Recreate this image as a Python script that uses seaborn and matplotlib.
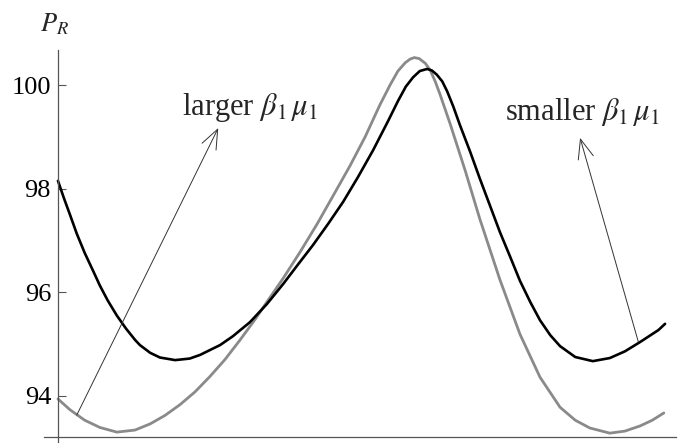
import matplotlib
matplotlib.use("Agg")
import matplotlib.pyplot as plt
import seaborn as sns
import pandas as pd

# ---- data (phase in % of the period, P_R values) ----
black_x = [0, 1.0, 2.0, 3.1, 4.4, 5.8, 6.9, 8.2, 9.7, 11.2, 12.7, 13.5, 15.2, 16.8,
           19.3, 21.7, 23.4, 26.7, 28.8, 31.6, 34.4, 37.1, 39.5, 42.0, 44.5, 47.0,
           49.4, 51.9, 54.4, 56.0, 57.3, 58.5, 59.6, 60.8, 61.6, 62.4, 63.3, 64.1,
           65.1, 66.2, 67.9, 69.5, 71.2, 72.8, 74.5, 76.1, 77.8, 79.4, 81.1, 82.7,
           85.2, 88.1, 90.9, 93.4, 95.9, 98.9, 100.0]
black_y = [98.15, 97.81, 97.49, 97.13, 96.76, 96.41, 96.13, 95.84, 95.55, 95.30,
           95.08, 94.98, 94.83, 94.74, 94.69, 94.72, 94.79, 94.98, 95.15, 95.42,
           95.77, 96.16, 96.53, 96.91, 97.32, 97.75, 98.22, 98.74, 99.31, 99.69,
           99.97, 100.15, 100.27, 100.31, 100.28, 100.20, 100.07, 99.88, 99.59,
           99.23, 98.71, 98.19, 97.66, 97.16, 96.68, 96.22, 95.81, 95.46, 95.17,
           94.96, 94.75, 94.67, 94.73, 94.86, 95.04, 95.27, 95.39]

gray_x = [0, 2.0, 4.4, 6.9, 9.7, 12.7, 15.2, 17.6, 20.1, 22.6, 25.0, 27.5, 30.0,
          32.5, 34.4, 37.1, 39.9, 42.7, 45.6, 48.1, 50.6, 53.0, 54.7, 56.0, 57.2,
          58.0, 58.7, 59.5, 60.5, 61.3, 62.1, 62.9, 64.6, 67.1, 69.5, 72.8, 76.1,
          79.4, 82.7, 85.2, 87.6, 90.9, 93.4, 95.9, 97.9, 99.8]
gray_y = [93.94, 93.73, 93.53, 93.39, 93.30, 93.34, 93.46, 93.62, 93.83, 94.08,
          94.37, 94.70, 95.08, 95.48, 95.81, 96.27, 96.78, 97.32, 97.92, 98.44,
          99.00, 99.61, 100.00, 100.27, 100.43, 100.50, 100.53, 100.51, 100.42,
          100.29, 100.08, 99.83, 99.25, 98.34, 97.41, 96.24, 95.19, 94.36, 93.78,
          93.53, 93.38, 93.28, 93.32, 93.42, 93.53, 93.67]

y_ticks = [94, 96, 98, 100]
y_label = "$P_R$"
label_larger = r"larger $\beta_1\,\mu_1$"
label_smaller = r"smaller $\beta_1\,\mu_1$"

# ---- style ----
sns.set_theme(style="white")
plt.rcParams["font.family"] = ["Liberation Serif", "DejaVu Serif"]
plt.rcParams["mathtext.fontset"] = "stix"
plt.rcParams["lines.solid_joinstyle"] = "round"
plt.rcParams["lines.solid_capstyle"] = "round"

W, H = 691, 443
fig = plt.figure(figsize=(W / 100, H / 100), dpi=100)
ax = fig.add_axes([44 / W, 0, 632 / W, 393 / H])

df_b = pd.DataFrame({"x": black_x, "y": black_y})
df_g = pd.DataFrame({"x": gray_x, "y": gray_y})
sns.lineplot(data=df_g, x="x", y="y", ax=ax, color="#8a8a8a", lw=2.0, sort=False)
sns.lineplot(data=df_b, x="x", y="y", ax=ax, color="#000000", lw=1.9, sort=False)

ax.set_xlim(-2.3, 101.8)
ax.set_ylim(93.09, 100.676)

axis_col = "#555555"
for s in ["top", "right"]:
    ax.spines[s].set_visible(False)
ax.spines["left"].set_position(("data", 0))
ax.spines["bottom"].set_position(("data", 93.21))
for s in ["left", "bottom"]:
    ax.spines[s].set_color(axis_col)
    ax.spines[s].set_linewidth(0.9)

ax.set_xticks([])
ax.set_yticks(y_ticks)
ax.set_yticklabels([str(t) for t in y_ticks])
ax.tick_params(axis="y", direction="in", length=6, width=0.8, color=axis_col,
               labelsize=19, pad=5, labelcolor="black", left=True)
ax.set_xlabel("")
ax.set_ylabel("")

fig.text(40 / W, 1 - 31 / H, y_label, fontsize=19, va="baseline", ha="left")

# ---- annotations ----
arrow_kw = dict(arrowstyle="->,head_length=0.7,head_width=0.28", color="#333333",
                lw=0.7, mutation_scale=20, shrinkA=0, shrinkB=0)
ax.annotate("", xy=(26.4, 99.17), xytext=(3.1, 93.63), arrowprops=arrow_kw)
ax.annotate("", xy=(86.0, 98.98), xytext=(95.6, 95.04), arrowprops=arrow_kw)
ax.text(20.4, 99.42, label_larger, fontsize=22, ha="left", va="baseline")
ax.text(73.6, 99.32, label_smaller, fontsize=22, ha="left", va="baseline")

fig.savefig("out.png", dpi=100)
